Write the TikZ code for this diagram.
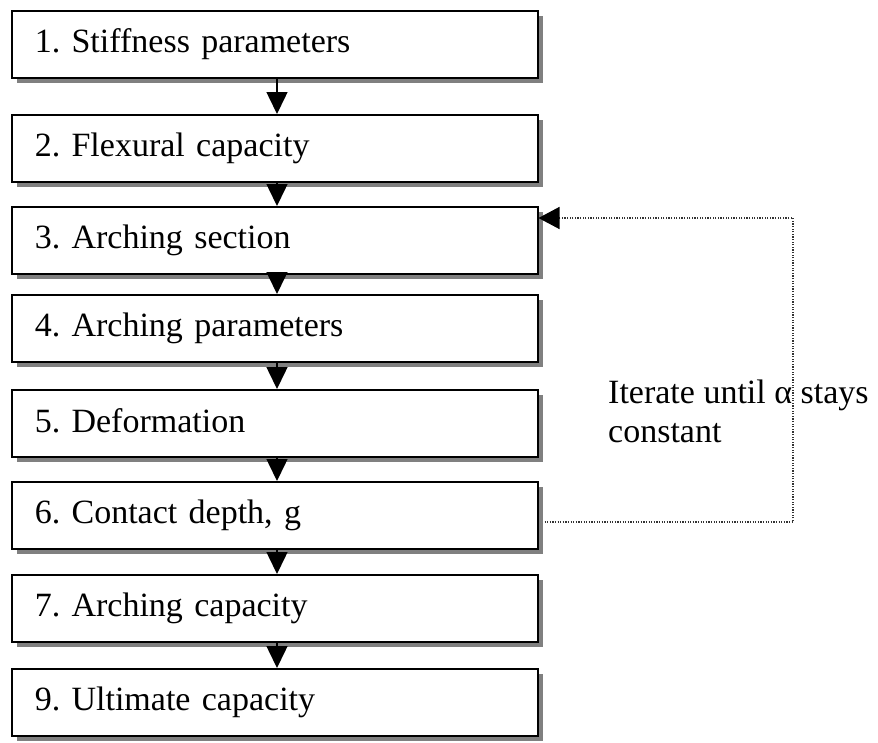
\documentclass[tikz,border=0pt]{standalone}
\usepackage{fontspec}
\setmainfont{Liberation Serif}
\usetikzlibrary{arrows.meta,shadows,calc}
\newcommand{\bxstrut}{\rule[-6pt]{0pt}{28pt}}
\begin{document}
\begin{tikzpicture}[
  x=1pt,y=-1pt,
  stepbox/.style={draw=black,line width=1.5pt,fill=white,anchor=north west,
    minimum width=525pt,minimum height=67pt,text width=480pt,align=left,
    inner xsep=23pt,font=\fontsize{34}{39}\selectfont\frenchspacing,
    drop shadow={shadow xshift=5pt,shadow yshift=-5pt,fill=black!50,opacity=1}},
  arr/.style={line width=1.5pt,-{Triangle[length=22pt,width=21pt]}},
  loopline/.style={line width=1.4pt,draw=black!80,dash pattern=on 1.2pt off 1.4pt,
    -{Triangle[length=21pt,width=22pt,color=black]}},
  note/.style={font=\fontsize{34}{39}\selectfont\frenchspacing,align=left,inner sep=0pt,anchor=north west}
]
\useasboundingbox (0,0) rectangle (878,742);
\fill[white] (0,0) rectangle (878,742);

\node[stepbox] (b1) at (11,10)  {\bxstrut 1. Stiffness parameters};
\node[stepbox] (b2) at (11,114) {\bxstrut 2. Flexural capacity};
\node[stepbox] (b3) at (11,206) {\bxstrut 3. Arching section};
\node[stepbox] (b4) at (11,294) {\bxstrut 4. Arching parameters};
\node[stepbox] (b5) at (11,389) {\bxstrut 5. Deformation};
\node[stepbox] (b6) at (11,481) {\bxstrut 6. Contact depth, g};
\node[stepbox] (b7) at (11,574) {\bxstrut 7. Arching capacity};
\node[stepbox] (b9) at (11,668) {\bxstrut 9. Ultimate capacity};

\coordinate (ax) at (277,0);
\draw[arr] (b1.south -| ax) -- (b2.north -| ax);
\draw[arr] (b2.south -| ax) -- (b3.north -| ax);
\draw[arr] (b3.south -| ax) -- (b4.north -| ax);
\draw[arr] (b4.south -| ax) -- (b5.north -| ax);
\draw[arr] (b5.south -| ax) -- (b6.north -| ax);
\draw[arr] (b6.south -| ax) -- (b7.north -| ax);
\draw[arr] (b7.south -| ax) -- (b9.north -| ax);

\coordinate (corner) at (793,218);
\coordinate (lstart) at ($(b6.north east)+(6,41)$);
\coordinate (lend) at ($(b3.north east)+(0,12)$);
\draw[loopline] (lstart) -| (corner) -- (lend);

\node[note] (txt) at (608,380) {Iterate until α stays\\constant};
\end{tikzpicture}
\end{document}
